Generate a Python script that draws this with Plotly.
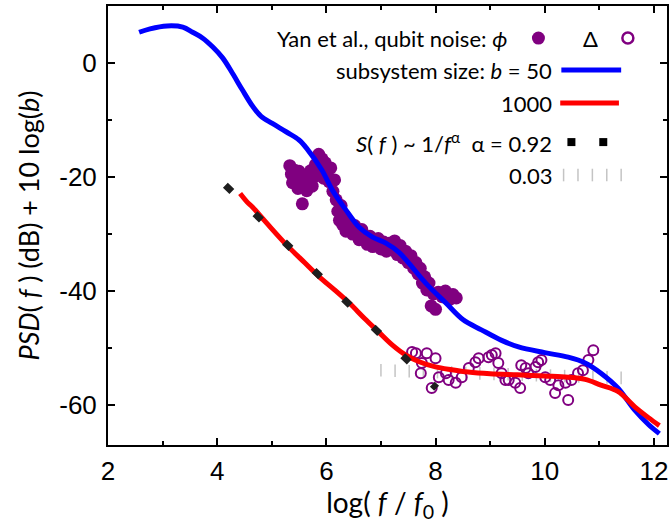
import numpy as np
import plotly.graph_objects as go

# ---- smoothed spectra, subsystem sizes b = 50 and b = 1000 ----
b50_x = [2.57, 2.77, 3.08, 3.37, 3.55, 3.73, 3.92, 4.10, 4.28, 4.46, 4.65, 4.80, 5.01,
         5.27, 5.50, 5.65, 5.92, 6.11, 6.36, 6.60, 6.84, 7.09, 7.33, 7.51, 7.82, 8.19,
         8.50, 8.84, 9.20, 9.52, 10.00, 10.43, 10.74, 11.03, 11.34, 11.65, 11.90, 12.10]
b50_y = [5.4, 6.0, 6.5, 6.3, 5.4, 4.4, 2.8, 0.9, -1.8, -4.7, -7.6, -9.3, -10.6,
         -12.1, -13.5, -15.1, -18.8, -22.3, -25.8, -28.8, -30.5, -31.6, -33.2, -35.1,
         -38.6, -42.1, -45.0, -46.8, -48.6, -49.8, -50.8, -51.6, -52.6, -54.4, -57.0,
         -60.9, -63.4, -65.0]

b1000_x = [4.42, 4.55, 4.65, 4.90, 5.27, 5.60, 5.87, 6.15, 6.42, 6.70, 6.96, 7.20,
           7.45, 7.70, 8.00, 8.30, 8.60, 9.00, 9.50, 10.00, 10.43, 10.74, 11.03,
           11.34, 11.65, 11.90, 12.10]
b1000_y = [-22.9, -24.4, -25.3, -28.0, -31.9, -35.0, -37.5, -39.8, -42.1, -44.8,
           -47.2, -49.4, -51.2, -52.4, -53.3, -53.8, -54.2, -54.5, -54.7, -54.9,
           -55.1, -55.5, -56.5, -57.6, -60.3, -62.2, -63.6]

# ---- Yan et al. qubit noise, phi (filled) ----
phi_x = [5.33, 5.36, 5.38, 5.42, 5.45, 5.48, 5.50, 5.53, 5.56, 5.58, 5.60,
         5.64, 5.68, 5.71, 5.74, 5.77, 5.80, 5.83, 5.86, 5.89, 5.92, 5.95, 5.98, 6.02, 6.05, 6.08,
         6.12, 6.15, 6.18, 6.21, 6.24, 6.27, 6.30, 6.33, 6.36, 6.40, 6.44, 6.48,
         6.52, 6.56, 6.60, 6.65, 6.70, 6.75, 6.80, 6.85, 6.90, 6.95, 7.00, 7.05,
         7.10, 7.15, 7.20, 7.25, 7.30, 7.35, 7.40, 7.45, 7.50, 7.55, 7.60,
         7.64, 7.68, 7.72, 7.76, 7.80, 7.84, 7.88, 7.92, 7.96, 8.00, 8.05, 8.12, 8.18,
         8.25, 8.32, 8.38]
phi_y = [-18.0, -19.5, -21.0, -18.8, -20.2, -22.0, -19.0, -20.8, -24.7, -21.5, -19.8,
         -22.4, -20.6, -18.9, -21.6, -20.0, -17.8, -19.5, -16.0, -18.6, -16.8, -20.2, -17.5,
         -19.0, -20.8, -18.4,
         -22.5, -20.5, -24.0, -26.0, -27.6, -25.0, -28.4, -26.8, -29.5, -27.8, -28.8, -30.0,
         -28.5, -29.6, -31.0, -29.2, -30.6, -31.8, -30.4, -32.2, -31.0, -30.8, -32.6, -31.4,
         -33.0, -31.6, -32.8, -31.2, -33.6, -32.0, -34.2, -33.0, -35.0, -33.8, -36.0,
         -35.0, -37.0, -36.0, -38.6, -37.5, -39.8, -38.6, -42.6, -40.5, -43.2, -40.2, -41.0,
         -40.0, -41.5, -40.6, -41.2]

# ---- Yan et al. qubit noise, Delta (open) ----
delta_x = [7.57, 7.64, 7.84, 8.00, 7.75, 7.73, 7.93, 8.06, 8.19, 8.24, 8.37, 8.48, 8.61,
           8.73, 8.79, 8.97, 9.03, 9.10, 9.15, 9.21, 9.28, 9.34, 9.46, 9.55, 9.57, 9.65,
           9.70, 9.83, 9.88, 9.94, 10.01, 10.10, 10.19, 10.25, 10.38, 10.43, 10.49, 10.61,
           10.70, 10.80, 10.89]
delta_y = [-50.7, -50.9, -50.9, -51.8, -52.6, -54.4, -57.0, -55.1, -54.4, -55.6, -56.1,
           -55.1, -53.5, -52.5, -51.8, -51.6, -51.2, -50.9, -52.6, -54.4, -55.6, -55.6,
           -56.1, -57.0, -53.0, -53.5, -54.4, -53.3, -52.5, -52.1, -55.1, -55.6, -57.9,
           -56.5, -56.1, -59.1, -55.6, -54.4, -53.9, -52.1, -50.4]

# ---- power-law guides S(f) ~ 1/f^alpha (10*alpha dB per decade) ----
fit_alpha = [0.92, 0.03]
fit_x_start = [4.15, 7.00]
fit_x_end = [8.02, 11.40]
fit_y_start = [-21.45, -53.9]

x_ticks = [2, 4, 6, 8, 10, 12]
y_ticks = [-60, -40, -20, 0]
y_tick_text = ["-60", "-40", "-20", "0"]

PURPLE = "#800080"
GRAY = "#c4c4c4"
TEXT_FONT = "Lato"
TICK_FONT = "Liberation Sans"


def power_law(i, n):
    xs = np.linspace(fit_x_start[i], fit_x_end[i], n)
    ys = fit_y_start[i] - 10 * fit_alpha[i] * (xs - fit_x_start[i])
    return xs, ys


fig = go.Figure()

# alpha = 0.03 guide: thin vertical ticks, underneath the spectra
gx, gy = power_law(1, 18)
fig.add_trace(go.Scatter(x=gx, y=gy, mode="markers",
                         marker=dict(symbol="line-ns", size=9, color=GRAY,
                                     line=dict(color=GRAY, width=1.5))))

fig.add_trace(go.Scatter(x=phi_x, y=phi_y, mode="markers",
                         marker=dict(color=PURPLE, size=13, line=dict(width=0))))
fig.add_trace(go.Scatter(x=delta_x, y=delta_y, mode="markers",
                         marker=dict(color=PURPLE, size=10, symbol="circle-open",
                                     line=dict(color=PURPLE, width=2))))

fig.add_trace(go.Scatter(x=b50_x, y=b50_y, mode="lines",
                         line=dict(color="#0000ff", width=5, shape="spline", smoothing=1.0)))
fig.add_trace(go.Scatter(x=b1000_x, y=b1000_y, mode="lines",
                         line=dict(color="#ff0000", width=5, shape="spline", smoothing=1.0)))

# alpha = 0.92 guide: short thick dashes
gx, gy = power_law(0, 2)
fig.add_trace(go.Scatter(x=gx, y=gy, mode="lines",
                         line=dict(color="#1e1e1e", width=7, dash="9px,32px")))

# ---- legend, drawn on an overlay axis spanning the plot area ----
row_y = [0.927, 0.854, 0.779, 0.690, 0.615]
fig.add_trace(go.Scatter(x=[0.770], y=[row_y[0]], mode="markers", xaxis="x2", yaxis="y2",
                         marker=dict(color=PURPLE, size=13)))
fig.add_trace(go.Scatter(x=[0.930], y=[row_y[0]], mode="markers", xaxis="x2", yaxis="y2",
                         marker=dict(symbol="circle-open", size=11, color=PURPLE,
                                     line=dict(color=PURPLE, width=2.5))))
fig.add_trace(go.Scatter(x=[0.811, 0.918], y=[row_y[1]] * 2, mode="lines", xaxis="x2", yaxis="y2",
                         line=dict(color="#0000ff", width=5)))
fig.add_trace(go.Scatter(x=[0.809, 0.914], y=[row_y[2]] * 2, mode="lines", xaxis="x2", yaxis="y2",
                         line=dict(color="#ff0000", width=5)))
fig.add_trace(go.Scatter(x=[0.829, 0.886], y=[row_y[3]] * 2, mode="markers", xaxis="x2", yaxis="y2",
                         marker=dict(symbol="square", size=8, color="#000000")))
fig.add_trace(go.Scatter(x=np.linspace(0.815, 0.918, 5), y=[row_y[4]] * 5, mode="markers",
                         xaxis="x2", yaxis="y2",
                         marker=dict(symbol="line-ns", size=9, color=GRAY,
                                     line=dict(color=GRAY, width=1.5))))

legend_text = [
    (0.717, row_y[0], "Yan et al., qubit noise: <i>ϕ</i>"),
    (0.880, row_y[0], "Δ"),
    (0.797, row_y[1], "subsystem size: <i>b</i> = 50"),
    (0.797, row_y[2], "1000"),
    (0.797, row_y[3], "<i>S</i>( <i>f</i> ) ~ 1/<i>f</i><sup>α</sup>  α = 0.92"),
    (0.797, row_y[4], "0.03"),
]
annotations = []
for x, y, t in legend_text:
    annotations.append(dict(x=x, y=y, xref="paper", yref="paper", text=t, showarrow=False,
                            xanchor="right", yanchor="middle",
                            font=dict(family=TEXT_FONT, size=22, color="#000000")))

axis_common = dict(showline=True, linewidth=2, linecolor="#000000", mirror="ticks",
                   ticks="inside", ticklen=7, tickwidth=2, tickcolor="#000000",
                   showgrid=False, zeroline=False,
                   tickfont=dict(family=TICK_FONT, size=26, color="#000000"))

fig.update_layout(
    width=671, height=523,
    margin=dict(l=108, r=2, t=6, b=78),
    paper_bgcolor="#ffffff", plot_bgcolor="#ffffff",
    showlegend=False,
    annotations=annotations,
    xaxis=dict(range=[2, 12.24], tickvals=x_ticks,
               minor=dict(dtick=1, tick0=0, ticks="inside", ticklen=4, tickwidth=2,
                          tickcolor="#000000"),
               ticklabelstandoff=2,
               title=dict(text="log( <i>f</i> / <i>f</i><sub>0</sub> )", standoff=2,
                          font=dict(family=TEXT_FONT, size=28, color="#000000")),
               **axis_common),
    yaxis=dict(range=[-67, 10], tickvals=y_ticks, ticktext=y_tick_text,
               minor=dict(dtick=10, tick0=0, ticks="inside", ticklen=4, tickwidth=2,
                          tickcolor="#000000"),
               ticklabelstandoff=4,
               title=dict(text="<i>PSD</i>( <i>f</i> ) (dB) + 10 log(<i>b</i>)", standoff=12,
                          font=dict(family=TEXT_FONT, size=27, color="#000000")),
               **axis_common),
    xaxis2=dict(range=[0, 1], overlaying="x", visible=False, anchor="y2"),
    yaxis2=dict(range=[0, 1], overlaying="y", visible=False, anchor="x2"),
)

fig.write_html("out.html")
